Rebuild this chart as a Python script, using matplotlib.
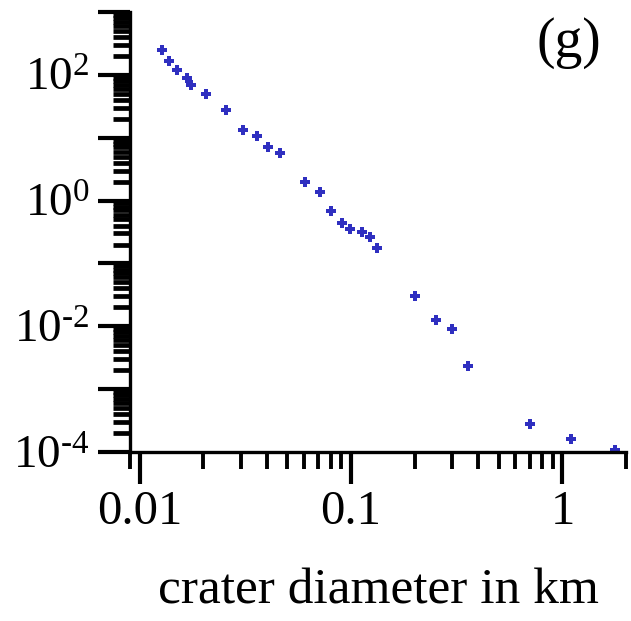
import matplotlib.pyplot as plt
import numpy as np
from matplotlib.ticker import FixedLocator, LogLocator, NullFormatter, FuncFormatter

plt.rcParams['font.family'] = ['Liberation Serif', 'DejaVu Serif']
plt.rcParams['mathtext.fontset'] = 'custom'
plt.rcParams['mathtext.rm'] = 'Liberation Serif'
plt.rcParams['mathtext.it'] = 'Liberation Serif:italic'

# cumulative crater counts vs. diameter (km)
diameter = [0.0127, 0.0138, 0.0151, 0.0168, 0.0174, 0.0207, 0.0256, 0.0309,
            0.0358, 0.0404, 0.0461, 0.0605, 0.0713, 0.0803, 0.0911, 0.0984,
            0.1125, 0.123, 0.1324, 0.201, 0.2535, 0.302, 0.356, 0.706,
            1.10, 1.77]
density = [248, 168, 119, 88, 70, 49.5, 27.6, 13.2,
           10.6, 7.2, 5.65, 1.97, 1.37, 0.68, 0.44, 0.349,
           0.316, 0.268, 0.177, 0.0298, 0.0127, 0.00916, 0.00232, 2.74e-4,
           1.59e-4, 1.09e-4]

x_ticks = [0.01, 0.1, 1]
x_ticklabels = ['0.01', '0.1', '1']
panel = '(g)'
xlabel = 'crater diameter in km'

fig = plt.figure(figsize=(6.31, 6.21), dpi=100)
ax = fig.add_axes([130 / 631, 1 - 452 / 621, 496 / 631, 440 / 621])

ax.plot(diameter, density, linestyle='none', marker='P', markersize=6.5,
        color='#2f2fc0', markeredgewidth=0)

ax.set_xscale('log')
ax.set_yscale('log')
ax.set_xlim(0.009, 2.0)
ax.set_ylim(1e-4, 1e3)

for side in ('top', 'right'):
    ax.spines[side].set_visible(False)
for side in ('left', 'bottom'):
    ax.spines[side].set_linewidth(2.4)
    ax.spines[side].set_color('black')

ax.xaxis.set_major_locator(FixedLocator(x_ticks))
ax.set_xticklabels(x_ticklabels)
ax.xaxis.set_minor_locator(LogLocator(base=10, subs=np.arange(2, 10), numticks=20))
ax.xaxis.set_minor_formatter(NullFormatter())

ax.yaxis.set_major_locator(LogLocator(base=10, subs=(1.0,), numticks=20))
ax.yaxis.set_minor_locator(LogLocator(base=10, subs=np.arange(2, 10), numticks=20))
ax.yaxis.set_minor_formatter(NullFormatter())


def even_decades(v, pos):
    # label only the even powers, with a short hyphen as the sign
    e = int(round(np.log10(v)))
    if e % 2 == 0 and e < 3:
        sign = '\u2010' if e < 0 else ''
        return r'$\mathregular{10^{%s%d}}$' % (sign, abs(e))
    return ''


ax.yaxis.set_major_formatter(FuncFormatter(even_decades))

ax.tick_params(which='major', direction='out', length=23, width=3.0,
               labelsize=35, pad=4)
ax.tick_params(which='minor', direction='out', length=12, width=3.4)
ax.tick_params(axis='x', which='minor', width=2.8)
ax.tick_params(axis='y', which='major', pad=6, labelsize=34)

ax.set_xlabel(xlabel, fontsize=37, labelpad=25)
ax.text(0.885, 0.93, panel, transform=ax.transAxes, fontsize=40,
        ha='center', va='center')

fig.savefig('out.png', dpi=100)
